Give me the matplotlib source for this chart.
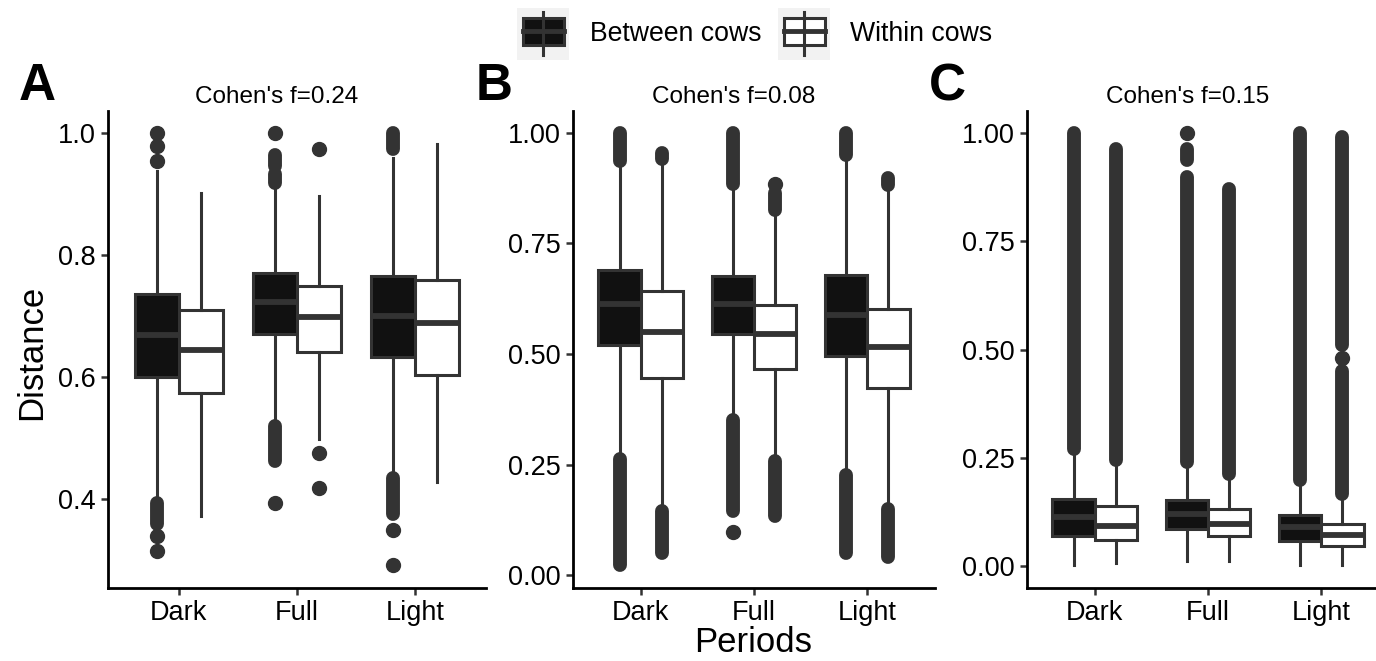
import matplotlib
matplotlib.use("Agg")
import matplotlib.pyplot as plt
from matplotlib.patches import Rectangle

plt.rcParams['font.family'] = ['Liberation Sans', 'DejaVu Sans']

W, H = 1376, 661

periods = ['Dark', 'Full', 'Light']
groups = ['Between cows', 'Within cows']
titles = ["Cohen's f=0.24", "Cohen's f=0.08", "Cohen's f=0.15"]
letters = ['A', 'B', 'C']

# five-number summaries per period: (whisker low, q1, median, q3, whisker high)
a_between = [(0.397, 0.600, 0.669, 0.736, 0.937), (0.526, 0.671, 0.723, 0.771, 0.912), (0.440, 0.632, 0.700, 0.765, 0.959)]
a_within = [(0.373, 0.574, 0.645, 0.709, 0.901), (0.499, 0.641, 0.698, 0.749, 0.897), (0.428, 0.604, 0.689, 0.759, 0.982)]
b_between = [(0.271, 0.520, 0.612, 0.690, 0.934), (0.355, 0.544, 0.612, 0.676, 0.881), (0.231, 0.496, 0.588, 0.679, 0.945)]
b_within = [(0.154, 0.445, 0.549, 0.642, 0.935), (0.263, 0.467, 0.544, 0.610, 0.822), (0.154, 0.422, 0.516, 0.602, 0.877)]
c_between = [(0.002, 0.070, 0.114, 0.155, 0.266), (0.013, 0.085, 0.120, 0.153, 0.237), (0.002, 0.058, 0.091, 0.119, 0.196)]
c_within = [(0.007, 0.060, 0.093, 0.138, 0.241), (0.013, 0.070, 0.097, 0.132, 0.208), (0.002, 0.048, 0.072, 0.097, 0.163)]

# single outliers
a_between_pts = [[1.0, 0.978, 0.953, 0.340, 0.315], [1.0, 0.394], [0.349, 0.292]]
a_within_pts = [[], [0.974, 0.476, 0.419], []]
b_between_pts = [[], [0.098], []]
b_within_pts = [[], [0.884], []]
c_between_pts = [[], [1.0], []]
c_within_pts = [[], [], [0.480]]

# dense outlier bands (lowest, highest)
a_between_runs = [[(0.360, 0.393)], [(0.946, 0.963), (0.918, 0.932), (0.462, 0.520)], [(0.974, 1.0), (0.375, 0.434)]]
a_within_runs = [[], [], []]
b_between_runs = [[(0.937, 1.0), (0.022, 0.263)], [(0.885, 1.0), (0.146, 0.351)], [(0.949, 1.0), (0.050, 0.227)]]
b_within_runs = [[(0.941, 0.953), (0.050, 0.146)], [(0.826, 0.863), (0.134, 0.259)], [(0.881, 0.897), (0.042, 0.150)]]
c_between_runs = [[(0.270, 1.0)], [(0.936, 0.963), (0.240, 0.897)], [(0.200, 1.0)]]
c_within_runs = [[(0.245, 0.963)], [(0.212, 0.870)], [(0.510, 0.990), (0.167, 0.450)]]

panels = [
    (a_between, a_within, a_between_pts, a_within_pts, a_between_runs, a_within_runs),
    (b_between, b_within, b_between_pts, b_within_pts, b_between_runs, b_within_runs),
    (c_between, c_within, c_between_pts, c_within_pts, c_between_runs, c_within_runs),
]

ylims = [(0.2545, 1.0355), (-0.029, 1.049), (-0.05, 1.05)]
yticks = [[0.4, 0.6, 0.8, 1.0], [0, 0.25, 0.5, 0.75, 1.0], [0, 0.25, 0.5, 0.75, 1.0]]
yfmt = ['{:.1f}', '{:.2f}', '{:.2f}']
ax_left = [108, 573, 1027]
ax_width = [378, 362, 362]

fills = ['#111111', '#FFFFFF']
edge = '#333333'

fig = plt.figure(figsize=(W / 100, H / 100), dpi=100)


def px(x, y):
    return x / W, 1 - y / H


for i, (between, within, pts_b, pts_w, runs_b, runs_w) in enumerate(panels):
    ax = fig.add_axes([ax_left[i] / W, (H - 588) / H, ax_width[i] / W, (588 - 111) / H])
    for g, (data, pts, runs) in enumerate([(between, pts_b, runs_b), (within, pts_w, runs_w)]):
        offset = -0.1875 if g == 0 else 0.1875
        stats = []
        for d in data:
            stats.append({'whislo': d[0], 'q1': d[1], 'med': d[2], 'q3': d[3], 'whishi': d[4], 'fliers': []})
        pos = [k + offset for k in range(len(periods))]
        ax.bxp(stats, positions=pos, widths=0.375, patch_artist=True, showcaps=False,
               showfliers=False,
               boxprops=dict(facecolor=fills[g], edgecolor=edge, linewidth=2.2),
               medianprops=dict(color=edge, linewidth=4.2, solid_capstyle='butt'),
               whiskerprops=dict(color=edge, linewidth=2.2))
        for k in range(len(periods)):
            for lo, hi in runs[k]:
                ax.plot([pos[k], pos[k]], [lo, hi], color=edge, lw=10, solid_capstyle='round', zorder=1)
            if pts[k]:
                ax.plot([pos[k]] * len(pts[k]), pts[k], 'o', color=edge, markersize=10, zorder=1)

    ax.set_xlim(-0.6, 2.6)
    ax.set_ylim(*ylims[i])
    ax.set_xticks(range(len(periods)))
    ax.set_xticklabels(periods)
    ax.set_yticks(yticks[i])
    ax.set_yticklabels([yfmt[i].format(t) for t in yticks[i]])
    for s in ['top', 'right']:
        ax.spines[s].set_visible(False)
    for s in ['left', 'bottom']:
        ax.spines[s].set_linewidth(2.0)
    ax.tick_params(axis='both', labelsize=19.5, length=5, width=1.8, pad=4, color='#333333', labelcolor='black')

    cx = ax_left[i] + ax_width[i] / 2 - 20
    fig.text(*px(cx, 97), titles[i], ha='center', va='center', fontsize=17.5)

fig.text(*px(37, 87), 'A', ha='center', va='center', fontsize=37, fontweight='bold')
fig.text(*px(494, 87), 'B', ha='center', va='center', fontsize=37, fontweight='bold')
fig.text(*px(947, 87), 'C', ha='center', va='center', fontsize=37, fontweight='bold')

fig.text(*px(32, 352), 'Distance', rotation=90, ha='center', va='center', fontsize=25)
fig.text(*px(753, 643), 'Periods', ha='center', va='center', fontsize=25)

# legend
key_x = [517, 778]
text_x = [590, 850]
for g in range(2):
    kax = fig.add_axes([key_x[g] / W, (H - 60) / H, 52 / W, 52 / H])
    kax.set_xlim(0, 1)
    kax.set_ylim(0, 1)
    kax.axis('off')
    kax.add_patch(Rectangle((0, 0), 1, 1, facecolor='#F2F2F2', edgecolor='none'))
    kax.plot([0.5, 0.5], [0.10, 0.92], color=edge, lw=2.2)
    kax.add_patch(Rectangle((0.11, 0.29), 0.79, 0.52, facecolor=fills[g], edgecolor=edge, lw=2.2))
    kax.plot([0.11, 0.90], [0.55, 0.55], color=edge, lw=3.5)
    fig.text(*px(text_x[g], 34), groups[g], ha='left', va='center', fontsize=19.2)

fig.savefig('out.png', dpi=100)
